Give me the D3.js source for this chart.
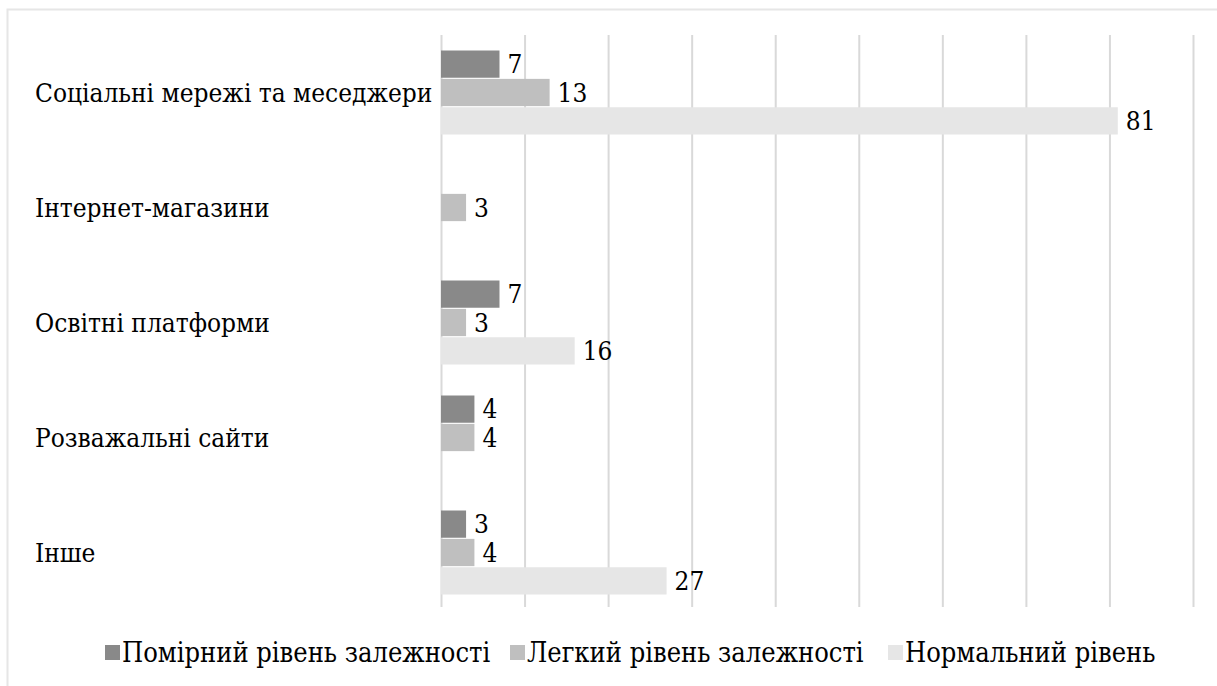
<!DOCTYPE html>
<html>
<head>
<meta charset="utf-8">
<script src="https://cdn.jsdelivr.net/npm/d3@7"></script>
<style>
  html, body { margin: 0; padding: 0; background: #fff; }
  svg { display: block; }
  text { font-family: "DejaVu Serif Condensed", "DejaVu Serif", serif; font-stretch: condensed; fill: #000; }
</style>
</head>
<body>
<svg id="chart" width="1217" height="686"></svg>
<script>
// Categories (top to bottom) and series
const categories = [
  "Соціальні мережі та меседжери",
  "Інтернет-магазини",
  "Освітні платформи",
  "Розважальні сайти",
  "Інше"
];
const seriesNames = ["Помірний рівень залежності", "Легкий рівень залежності", "Нормальний рівень"];
const moderate = [7, null, 7, 4, 3];
const mild     = [13, 3, 3, 4, 4];
const normal   = [81, null, 16, null, 27];
const xTicks   = [0, 10, 20, 30, 40, 50, 60, 70, 80, 90];
const seriesColors = ["#898989", "#bfbfbf", "#e6e6e6"];

const seriesValues = [moderate, mild, normal];

const svg = d3.select("#chart");
const W = 1217, H = 686;

svg.append("rect").attr("width", W).attr("height", H).attr("fill", "#fff");

// outer frame (top and left edges)
svg.append("path")
  .attr("d", `M7.5,${H} V9.5 H${W}`)
  .attr("fill", "none")
  .attr("stroke", "#e6e6e6")
  .attr("stroke-width", 2);

const plot = { left: 441, right: 1193, top: 35, bottom: 610 };

const x = d3.scaleLinear().domain([0, 90]).range([plot.left, plot.right]);
const y0 = d3.scaleBand().domain(categories).range([plot.top, plot.bottom]).paddingInner(0).paddingOuter(0);
const groupH = 84;
const y1 = d3.scaleBand().domain(seriesNames).range([0, groupH]).paddingInner(0.04);

// vertical gridlines
const grid = svg.append("g")
  .attr("transform", `translate(0,${plot.top})`)
  .call(d3.axisBottom(x).tickValues(xTicks).tickSize(607 - plot.top).tickFormat(""));
grid.select(".domain").remove();
grid.selectAll(".tick line").attr("stroke", "#d9d9d9").attr("stroke-width", 2);

const fontSize = 26;
const legendFontSize = 27;

// bars
const groups = svg.append("g").selectAll("g")
  .data(categories)
  .join("g")
  .attr("transform", d => `translate(0,${y0(d) + (y0.bandwidth() - groupH) / 2})`);

groups.each(function(cat, ci) {
  const g = d3.select(this);
  const rows = seriesNames.map((s, si) => ({ s, si, v: seriesValues[si][ci] }))
    .filter(d => d.v !== null);
  g.selectAll("rect")
    .data(rows)
    .join("rect")
    .attr("x", x(0))
    .attr("y", d => y1(d.s))
    .attr("width", d => x(d.v) - x(0))
    .attr("height", y1.bandwidth())
    .attr("fill", d => seriesColors[d.si]);
  g.selectAll("text")
    .data(rows)
    .join("text")
    .attr("x", d => x(d.v) + 8)
    .attr("y", d => y1(d.s) + y1.bandwidth() / 2)
    .attr("dy", "0.35em")
    .attr("font-size", fontSize)
    .text(d => d.v);
});

// category labels
svg.append("g").selectAll("text")
  .data(categories)
  .join("text")
  .attr("x", 35)
  .attr("y", d => y0(d) + y0.bandwidth() / 2)
  .attr("dy", "0.35em")
  .attr("font-size", fontSize)
  .text(d => d);

// legend
const legendX = [105, 510, 888];
const legend = svg.append("g").selectAll("g")
  .data(seriesNames)
  .join("g")
  .attr("transform", (d, i) => `translate(${legendX[i]},653)`);
legend.append("rect")
  .attr("x", 0).attr("y", -8)
  .attr("width", 15).attr("height", 15)
  .attr("fill", (d, i) => seriesColors[i]);
legend.append("text")
  .attr("x", 17)
  .attr("y", 0)
  .attr("dy", "0.35em")
  .attr("font-size", legendFontSize)
  .text(d => d);
</script>
</body>
</html>
